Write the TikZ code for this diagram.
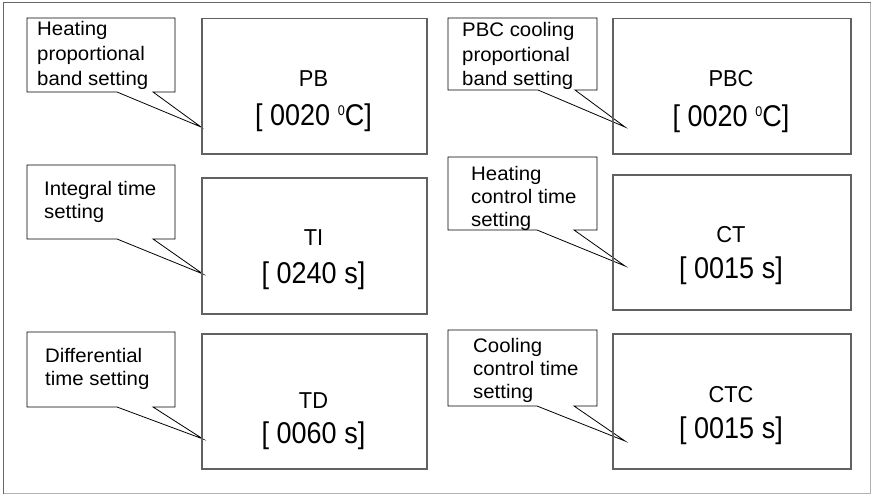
\documentclass[tikz,border=0pt]{standalone}
\usepackage{fontspec}
\setmainfont{Liberation Sans}
\newfontfamily\cfont[FakeStretch=1.04]{Liberation Sans}
\newfontfamily\lfont[FakeStretch=0.95]{Liberation Sans}
\newfontfamily\vfont[FakeStretch=0.9]{Liberation Sans}
\newcommand\degz{\raisebox{10pt}{\fontsize{14}{14}\selectfont 0}}
\begin{document}
\begin{tikzpicture}[x=1pt,y=-1pt,
  bigbox/.style={draw=black!62,line width=1.5pt},
  callout/.style={draw=black,line width=0.8pt,fill=white,line join=miter},
  ctext/.style={anchor=base west,inner sep=0pt},
  lbl/.style={anchor=base,inner sep=0pt,font=\lfont\fontsize{23}{26}\selectfont},
  val/.style={anchor=base,inner sep=0pt,font=\vfont\fontsize{30}{32}\selectfont},
  frameA/.style={draw=black!60,line width=1.3pt},
  frameB/.style={draw=black!30,line width=1.3pt}]
\useasboundingbox (0,0) rectangle (873,495);
\fill[white] (0,0) rectangle (873,495);
% outer frame
\draw[frameB] (3.5,493.5) -- (870.5,493.5) -- (870.5,2.5);
\draw[frameA] (3.5,493.5) -- (3.5,2.5) -- (870.5,2.5);
\newcommand\ctxt[4]{\node[ctext] (#1) at (#2) {\cfont\fontsize{19.6}{#3}\selectfont\parbox[t]{160pt}{#4}};}
% ---------- Panel PB
\draw[callout] (117,92) -- (27,92) -- (27,18) -- (175,18) -- (175,92) -- (153,92) -- (201,127) -- cycle;
\ctxt{cpb}{37,36}{25}{Heating\\proportional\\band setting}
\node[bigbox,minimum width=225pt,minimum height=135pt,anchor=north west] (pb) at (201,18) {};
\node[lbl] (pbl) at (313.5,86) {PB};
\node[val] (pbv) at (313.5,125) {[ 0020 \degz C]};
% ---------- Panel TI
\draw[callout] (117,239) -- (27,239) -- (27,165) -- (175,165) -- (175,239) -- (153,239) -- (203,274) -- cycle;
\ctxt{cti}{44,195}{23}{Integral time\\setting}
\node[bigbox,minimum width=225pt,minimum height=136pt,anchor=north west] (ti) at (201,177) {};
\node[lbl] (til) at (313.5,245) {TI};
\node[val] (tiv) at (313.5,283) {[ 0240 s]};
% ---------- Panel TD
\draw[callout] (117,407) -- (27,407) -- (27,332) -- (175,332) -- (175,407) -- (153,407) -- (203,439) -- cycle;
\ctxt{ctd}{45,362}{23}{Differential\\time setting}
\node[bigbox,minimum width=225pt,minimum height=135pt,anchor=north west] (td) at (201,333) {};
\node[lbl] (tdl) at (313.5,408) {TD};
\node[val] (tdv) at (313.5,443) {[ 0060 s]};
% ---------- Panel PBC
\draw[callout] (538,90) -- (448,90) -- (448,18) -- (597,18) -- (597,90) -- (575,90) -- (625,127) -- cycle;
\ctxt{cpbc}{462,37}{24.5}{PBC cooling\\proportional\\band setting}
\node[bigbox,minimum width=238pt,minimum height=135pt,anchor=north west] (pbc) at (612,18) {};
\node[lbl] (pbcl) at (731,86) {PBC};
\node[val] (pbcv) at (731,126) {[ 0020 \degz C]};
% ---------- Panel CT
\draw[callout] (537,230) -- (448,230) -- (448,157) -- (597,157) -- (597,230) -- (574,230) -- (625,266) -- cycle;
\ctxt{cct}{471,180}{23}{Heating\\control time\\setting}
\node[bigbox,minimum width=238pt,minimum height=135pt,anchor=north west] (ct) at (612,174) {};
\node[lbl] (ctl) at (731,242) {CT};
\node[val] (ctv) at (731,278) {[ 0015 s]};
% ---------- Panel CTC
\draw[callout] (537,406) -- (448,406) -- (448,330) -- (597,330) -- (597,406) -- (574,406) -- (625,441) -- cycle;
\ctxt{cctc}{473,352}{23}{Cooling\\control time\\setting}
\node[bigbox,minimum width=238pt,minimum height=135pt,anchor=north west] (ctc) at (612,333) {};
\node[lbl] (ctcl) at (731,402) {CTC};
\node[val] (ctcv) at (731,438) {[ 0015 s]};
\end{tikzpicture}
\end{document}
